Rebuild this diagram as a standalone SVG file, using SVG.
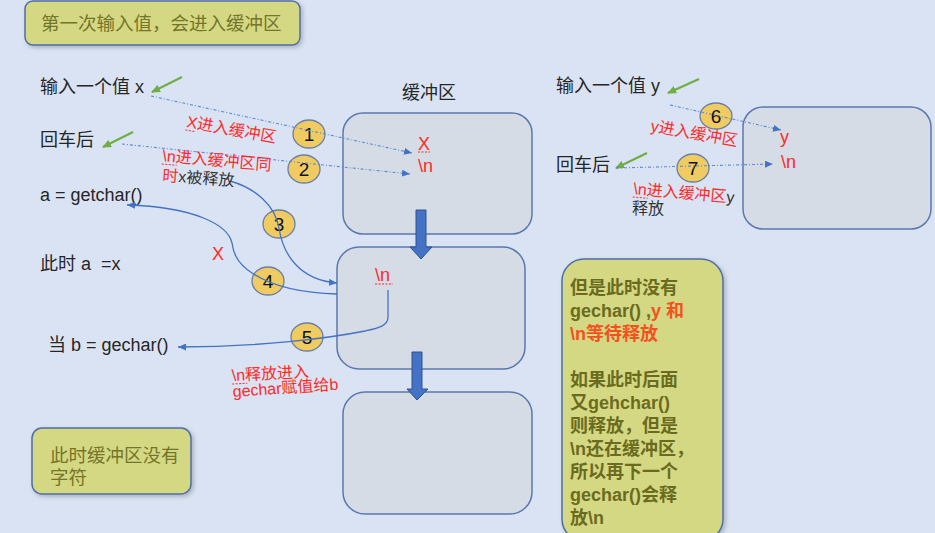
<svg xmlns="http://www.w3.org/2000/svg" width="935" height="533" viewBox="0 0 935 533">
<style>
text{font-family:"Liberation Sans","Noto Sans CJK SC",sans-serif;}
.dk{fill:#262626;font-size:18px;}
.red{fill:#FF2A2A;font-size:16px;}
.redb{fill:#FF2A2A;font-size:18px;}
.ol{fill:#75752A;font-size:18.5px;}
.olb{fill:#6B6B1E;font-size:18px;font-weight:bold;}
.or{fill:#F4511E;}
.box{fill:#D6DCE5;stroke:#5A78B0;stroke-width:1.5;}
.yel{fill:#D4D883;stroke:#4F6EA8;stroke-width:1.5;}
.num{fill:#EFCB62;stroke:#6A7FA6;stroke-width:1.3;}
.numt{fill:#111;font-size:19px;text-anchor:middle;}
.dot{fill:none;stroke:#5B8AD6;stroke-width:1.1;stroke-dasharray:3 2 1 2;}
.cur{fill:none;stroke:#4472C4;stroke-width:1.3;}
.grn{fill:none;stroke:#70AD47;stroke-width:2.2;}
.ul{stroke:#FF2A2A;stroke-width:1;stroke-dasharray:2 1.5;}
.blk{fill:#4472C4;stroke:#2F528F;stroke-width:1;}
</style>
<defs>
<marker id="ab" markerUnits="userSpaceOnUse" markerWidth="8" markerHeight="7" refX="8" refY="3.5" orient="auto"><path d="M0,0 L8,3.5 L0,7 z" fill="#4472C4"/></marker>
<marker id="ag" markerUnits="userSpaceOnUse" markerWidth="9" markerHeight="8" refX="8" refY="4" orient="auto"><path d="M0,0 L9,4 L0,8 z" fill="#70AD47"/></marker>
<filter id="sh" x="-10%" y="-10%" width="130%" height="140%"><feDropShadow dx="2" dy="2" stdDeviation="2" flood-color="#000" flood-opacity="0.22"/></filter>
</defs>
<rect x="0" y="0" width="935" height="533" fill="#DAE3F3"/>

<g id="title">
<rect class="yel" x="25" y="1" width="275" height="44" rx="8" filter="url(#sh)"/>
<text class="ol" x="41" y="30">第一次输入值，会进入缓冲区</text>
</g>

<g id="note-empty">
<rect class="yel" x="32" y="428" width="159" height="66" rx="10" filter="url(#sh)"/>
<text class="ol" x="50" y="462">此时缓冲区没有</text>
<text class="ol" x="50" y="484">字符</text>
</g>

<g id="note-right">
<rect class="yel" x="562" y="259" width="161" height="282" rx="22" filter="url(#sh)"/>
<text class="olb" x="570" y="294">但是此时没有</text>
<text class="olb" x="570" y="317">gechar() ,<tspan class="or">y 和</tspan></text>
<text class="olb or" x="570" y="340">\n等待释放</text>
<text class="olb" x="570" y="386">如果此时后面</text>
<text class="olb" x="570" y="409">又gehchar()</text>
<text class="olb" x="570" y="432">则释放，但是</text>
<text class="olb" x="570" y="455">\n还在缓冲区，</text>
<text class="olb" x="570" y="478">所以再下一个</text>
<text class="olb" x="570" y="501">gechar()会释</text>
<text class="olb" x="570" y="524">放\n</text>
</g>

<g id="labels-left">
<text class="dk" x="40" y="93">输入一个值 x</text>
<text class="dk" x="40" y="146">回车后</text>
<text class="dk" x="40" y="201" font-size="17">a = getchar()</text>
<text class="dk" x="40" y="270" font-size="17" style="white-space:pre">此时 a  =x</text>
<text class="dk" x="48" y="351" font-size="17">当 b = gechar()</text>
<text class="dk" x="402" y="99">缓冲区</text>
</g>

<g id="labels-right">
<text class="dk" x="556" y="92">输入一个值 y</text>
<text class="dk" x="556" y="171">回车后</text>
</g>

<g id="buffer1">
<rect class="box" x="343" y="113" width="189" height="121" rx="20"/>
<text class="redb" x="418" y="150">X</text>
<line class="ul" x1="418" y1="152" x2="430" y2="152"/>
<text class="redb" x="418" y="172">\n</text>
</g>
<g id="buffer2">
<rect class="box" x="337" y="247" width="188" height="122" rx="22"/>
<text class="redb" x="375" y="281">\n</text>
<line class="ul" x1="375" y1="284" x2="393" y2="284"/>
</g>
<g id="buffer3">
<rect class="box" x="343" y="392" width="189" height="122" rx="22"/>
</g>
<g id="buffer4">
<rect class="box" x="743" y="107" width="188" height="122" rx="20"/>
<text class="redb" x="780" y="143">y</text>
<text class="redb" x="781" y="168">\n</text>
</g>

<g id="flow-arrows">
<path class="blk" d="M416,210 L426,210 L426,247 L432,247 L421,259 L410,247 L416,247 z"/>
<path class="blk" d="M412,352 L422,352 L422,389 L428,389 L417,400 L407,389 L412,389 z"/>
</g>

<g id="steps">
<g id="s1"><ellipse class="num" cx="309" cy="134" rx="16" ry="14"/><text class="numt" x="309" y="141">1</text></g>
<g id="s2"><ellipse class="num" cx="304" cy="169" rx="16" ry="14"/><text class="numt" x="304" y="176">2</text></g>
<g id="s3"><ellipse class="num" cx="279" cy="224" rx="16" ry="14"/><text class="numt" x="279" y="231">3</text></g>
<g id="s4"><ellipse class="num" cx="268" cy="281" rx="16" ry="14"/><text class="numt" x="268" y="288">4</text></g>
<g id="s5"><ellipse class="num" cx="307" cy="337" rx="16" ry="14"/><text class="numt" x="307" y="344">5</text></g>
<g id="s6"><ellipse class="num" cx="716" cy="116" rx="16" ry="13"/><text class="numt" x="716" y="123">6</text></g>
<g id="s7"><ellipse class="num" cx="693" cy="168" rx="16" ry="14"/><text class="numt" x="693" y="175">7</text></g>
</g>

<g id="connectors">
<line class="grn" x1="182" y1="77" x2="152" y2="92" marker-end="url(#ag)"/>
<line class="grn" x1="133" y1="132" x2="103" y2="147" marker-end="url(#ag)"/>
<line class="grn" x1="699" y1="79" x2="668" y2="93" marker-end="url(#ag)"/>
<line class="grn" x1="647" y1="153" x2="616" y2="168" marker-end="url(#ag)"/>
<line class="dot" x1="151" y1="96" x2="412" y2="153" marker-end="url(#ab)"/>
<line class="dot" x1="122" y1="144" x2="410" y2="174" marker-end="url(#ab)"/>
<line class="dot" x1="670" y1="105" x2="781" y2="130" marker-end="url(#ab)"/>
<line class="dot" x1="616" y1="168" x2="773" y2="164" marker-end="url(#ab)"/>
<path class="cur" d="M230,181 C255,188 275,205 279,228 C283,255 300,280 337,283" marker-end="url(#ab)"/>
<path class="cur" d="M337,294 C300,293 270,285 252,273 C235,262 233,250 232,243 C228,225 195,207 127,205" marker-end="url(#ab)"/>
<path class="cur" d="M388,290 L388,317 C388,326 378,328 365,331 C330,338 260,347 178,347" marker-end="url(#ab)"/>
</g>

<g id="step-labels">
<g transform="rotate(10 186 127)">
<text class="red" x="186" y="127">X进入缓冲区</text>
<line class="ul" x1="186" y1="130" x2="196" y2="130"/>
</g>
<g transform="rotate(5 162 161)">
<text class="red" x="162" y="161">\n进入缓冲区同</text>
<line class="ul" x1="162" y1="164" x2="177" y2="164"/>
</g>
<text class="red" x="162" y="181" transform="rotate(4 162 181)">时<tspan fill="#333">x被释放</tspan></text>
<text class="redb" x="212" y="260" font-size="17">X</text>
<g transform="rotate(-3 232 381)">
<text class="red" x="232" y="381">\n释放进入</text>
<line class="ul" x1="232" y1="384" x2="247" y2="384"/>
</g>
<text class="red" x="233" y="397" transform="rotate(-4 233 397)">gechar赋值给b</text>
<text class="red" x="650" y="131" transform="rotate(10 650 131)">y进入缓冲区</text>
<g transform="rotate(5 633 194)">
<text class="red" x="633" y="194">\n进入缓冲区<tspan fill="#333">y</tspan></text>
<line class="ul" x1="633" y1="197" x2="648" y2="197"/>
</g>
<text x="632" y="214" fill="#333" font-size="16">释放</text>
</g>
</svg>
